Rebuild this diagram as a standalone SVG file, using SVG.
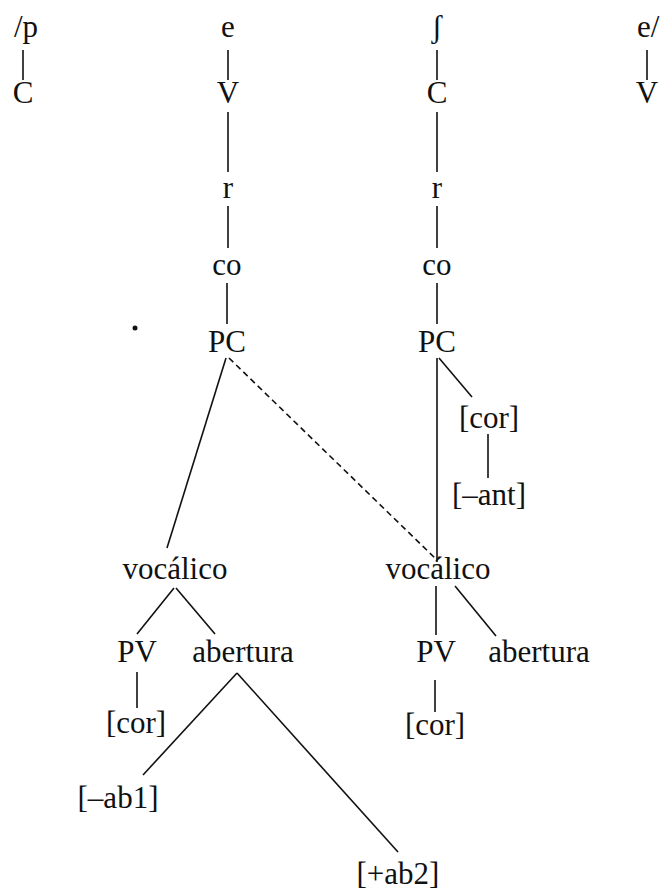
<svg xmlns="http://www.w3.org/2000/svg" width="662" height="893" viewBox="0 0 662 893">
<style>
text{font-family:"Liberation Serif","Times New Roman",serif;font-size:31px;fill:#111;text-anchor:middle}
.l{stroke:#111;stroke-width:1.6;fill:none}
.d{stroke:#111;stroke-width:1.6;fill:none;stroke-dasharray:6,4}
</style>
<rect width="662" height="893" fill="#fff"/>
<g id="seg-p"><text x="14" y="37" style="text-anchor:start">/p</text></g>
<g id="seg-e1"><text x="228" y="37">e</text></g>
<g id="seg-sh"><text x="437" y="37">ʃ</text></g>
<g id="seg-e2"><text x="637" y="37" style="text-anchor:start">e/</text></g>
<g id="C1"><text x="23" y="103">C</text></g>
<g id="V1"><text x="228" y="103">V</text></g>
<g id="C2"><text x="437" y="103">C</text></g>
<g id="V2"><text x="647" y="103">V</text></g>
<g id="r1"><text x="228" y="198">r</text></g>
<g id="r2"><text x="437" y="198">r</text></g>
<g id="co1"><text x="227" y="275">co</text></g>
<g id="co2"><text x="437" y="275">co</text></g>
<g id="PC1"><text x="227" y="352">PC</text></g>
<g id="PC2"><text x="437" y="352">PC</text></g>
<g id="cor-r"><text x="489" y="428">[cor]</text></g>
<g id="ant"><text x="489" y="505">[–ant]</text></g>
<g id="voc1"><text x="175" y="579">vocálico</text></g>
<g id="voc2"><text x="438" y="579">vocálico</text></g>
<g id="PV1"><text x="137" y="662">PV</text></g>
<g id="ab1"><text x="243" y="662">abertura</text></g>
<g id="PV2"><text x="436" y="662">PV</text></g>
<g id="ab2"><text x="539" y="662">abertura</text></g>
<g id="cor1"><text x="136" y="733">[cor]</text></g>
<g id="cor2"><text x="435" y="735">[cor]</text></g>
<g id="minab1"><text x="118" y="808">[–ab1]</text></g>
<g id="plusab2"><text x="398" y="884">[+ab2]</text></g>
<circle cx="135" cy="328" r="2.5" fill="#111"/>
<g id="connectors">
<line class="l" x1="23" y1="50" x2="23" y2="80"/>
<line class="l" x1="228" y1="50" x2="228" y2="80"/>
<line class="l" x1="437" y1="50" x2="437" y2="80"/>
<line class="l" x1="647" y1="50" x2="647" y2="80"/>
<line class="l" x1="228" y1="112" x2="228" y2="172"/>
<line class="l" x1="437" y1="112" x2="437" y2="172"/>
<line class="l" x1="228" y1="206" x2="228" y2="248"/>
<line class="l" x1="437" y1="206" x2="437" y2="248"/>
<line class="l" x1="227" y1="283" x2="227" y2="324"/>
<line class="l" x1="437" y1="283" x2="437" y2="324"/>
<line class="l" x1="226" y1="358" x2="167" y2="548"/>
<line class="d" x1="229" y1="358" x2="437" y2="560"/>
<line class="l" x1="437" y1="358" x2="437" y2="562"/>
<line class="l" x1="439" y1="358" x2="472" y2="397"/>
<line class="l" x1="488" y1="434" x2="488" y2="478"/>
<line class="l" x1="174" y1="588" x2="137" y2="634"/>
<line class="l" x1="176" y1="588" x2="215" y2="634"/>
<line class="l" x1="137" y1="672" x2="137" y2="708"/>
<line class="l" x1="237" y1="673" x2="143" y2="775"/>
<line class="l" x1="237" y1="673" x2="398" y2="852"/>
<line class="l" x1="436" y1="586" x2="436" y2="635"/>
<line class="l" x1="455" y1="586" x2="496" y2="636"/>
<line class="l" x1="435" y1="680" x2="435" y2="712"/>
</g>
</svg>
